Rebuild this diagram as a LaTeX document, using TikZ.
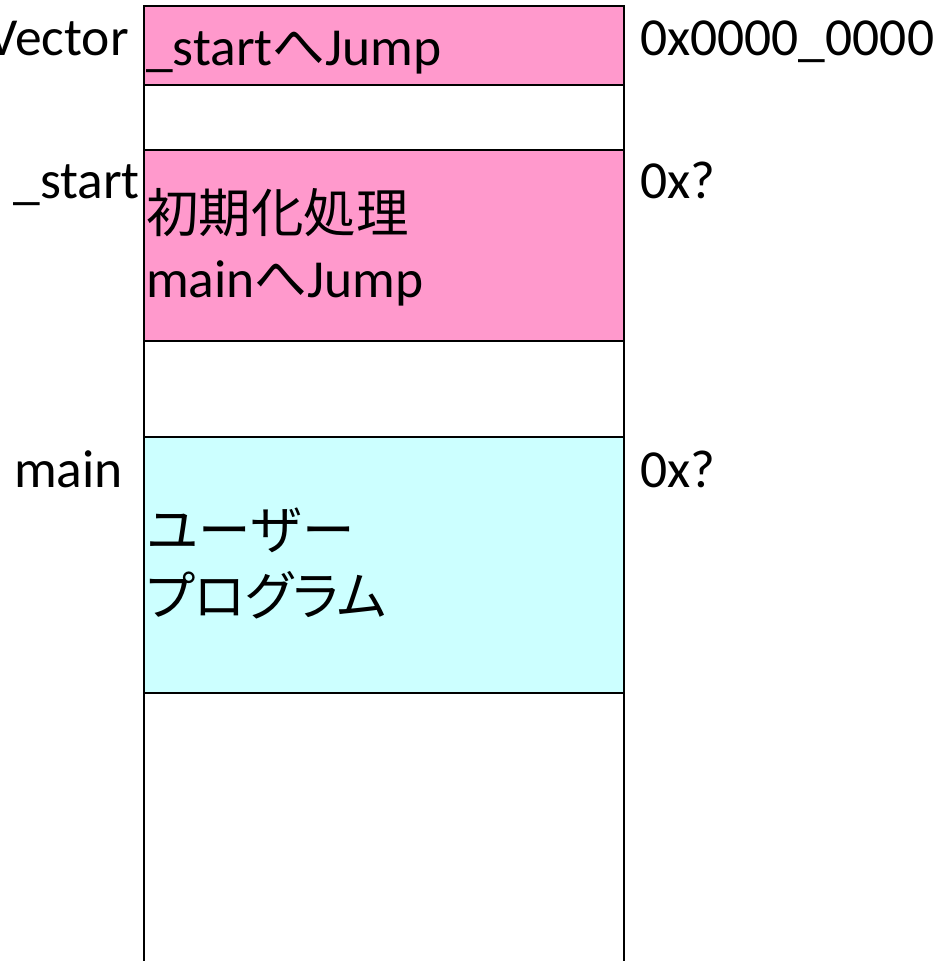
\documentclass[tikz,border=0pt]{standalone}
\usepackage{fontspec}
\setmainfont{Carlito}
\newfontfamily\jp{Noto Sans CJK JP}
\newfontfamily\jpp[RawFeature=+palt]{Noto Sans CJK JP}
\definecolor{mpink}{HTML}{FF99CC}
\definecolor{mcyan}{HTML}{CCFFFF}
\begin{document}
\begin{tikzpicture}[x=1pt,y=-1pt,
  lbl/.style={inner sep=0pt,font=\fontsize{53.5}{62}\selectfont},
  jlbl/.style={inner sep=0pt,font=\fontsize{52.5}{62}\selectfont},
  region/.style={draw=black,line width=1.8pt}]
\useasboundingbox (0,0) rectangle (939,961);
% regions
\fill[mpink] (144,6) rectangle (624,85);
\fill[mpink] (144,150) rectangle (624,341);
\fill[mcyan] (144,437) rectangle (624,693);
\draw[region] (144,975) -- (144,6) -- (624,6) -- (624,975);
\foreach \yy in {85,150,341,437,693} \draw[region] (144,\yy) -- (624,\yy);
% left labels
\node[lbl,anchor=base east] (lvec) at (129,55) {Vector};
\node[lbl,anchor=base east] (lstart) at (140,198) {\_start};
\node[lbl,anchor=base east] (lmain) at (123,487) {main};
% right labels
\node[lbl,anchor=base west] (a0) at (640,55) {0x0000\_0000};
\node[lbl,anchor=base west] (a1) at (640,198) {0x?};
\node[lbl,anchor=base west] (a2) at (640,487) {0x?};
% box contents
\node[lbl,anchor=base west] (t0) at (146,65) {\_start{\jp\fontsize{52.5}{62}\selectfont へ}Jump};
\node[jlbl,anchor=base west] (t1) at (146,232) {\jp 初期化処理};
\node[lbl,anchor=base west] (t2) at (146,297) {main{\jp\fontsize{52.5}{62}\selectfont へ}Jump};
\node[jlbl,anchor=base west] (t3) at (146,549) {\jp ユーザー};
\node[jlbl,anchor=base west] (t4) at (146,615) {\jpp プログラム};
\end{tikzpicture}
\end{document}
